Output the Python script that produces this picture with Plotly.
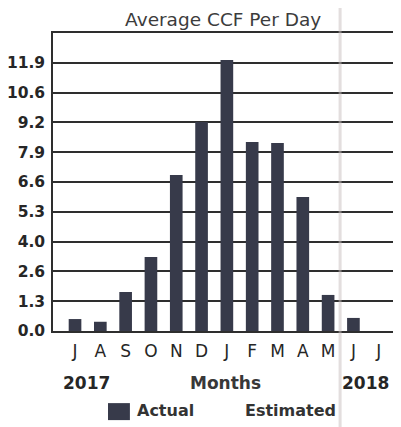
import plotly.graph_objects as go

months = ["J", "A", "S", "O", "N", "D", "J", "F", "M", "A", "M", "J", "J"]
actual = [0.53, 0.41, 1.73, 3.28, 6.92, 9.27, 12.02, 8.39, 8.34, 5.94, 1.60, 0.58, None]
estimated = [None] * 13
ytick_vals = [0, 1.322, 2.644, 3.967, 5.289, 6.611, 7.933, 9.256, 10.578, 11.9]
ytick_text = ["0.0", "1.3", "2.6", "4.0", "5.3", "6.6", "7.9", "9.2", "10.6", "11.9"]
years = ["2017", "2018"]
legend_names = ["Actual", "Estimated"]

x = list(range(len(months)))
FONT = "DejaVu Sans"
TXT = "#262626"
BAR = "#373a4a"

fig = go.Figure()
fig.add_trace(go.Bar(x=x, y=actual, name=legend_names[0], width=0.5,
                     marker=dict(color=BAR, line=dict(width=0))))
fig.add_trace(go.Bar(x=x, y=estimated, name=legend_names[1], width=0.5,
                     marker=dict(color="#ffffff", line=dict(width=0))))

# page body has an 8px default margin, so the figure is sized to fit inside it
fig.update_layout(
    width=393, height=419,
    margin=dict(l=45, r=0, t=25, b=96),
    paper_bgcolor="white", plot_bgcolor="white",
    barmode="overlay",
    title=dict(text="Average CCF Per Day", x=0.489, xref="paper", xanchor="center",
               y=0.973, yref="container", yanchor="middle", automargin=False,
               font=dict(family=FONT, size=18.5, color="#3c3c3c")),
    font=dict(family=FONT, color=TXT),
    showlegend=False,
)
fig.update_xaxes(range=[-0.87, 12.88], tickvals=x, ticktext=months,
                 tickfont=dict(family=FONT, size=17, color=TXT),
                 showgrid=False, zeroline=False, ticks="", automargin=False,
                 ticklabelstandoff=4,
                 showline=True, mirror=True, linecolor="#2e2e2e", linewidth=1.5,
                 fixedrange=True)
fig.update_yaxes(range=[0, 13.22], tickvals=ytick_vals, ticktext=ytick_text,
                 tickfont=dict(family=FONT, size=15.5, color=TXT, weight="bold"),
                 showgrid=True, gridcolor="#2e2e2e", gridwidth=1.6,
                 zeroline=False, ticks="", ticklabelstandoff=3, automargin=False,
                 showline=True, linecolor="#2e2e2e", linewidth=1.5,
                 fixedrange=True)

for txt, px in [(years[0], 0.095), ("Months", 0.497), (years[1], 0.897)]:
    fig.add_annotation(text="<b>" + txt + "</b>", x=px, xref="paper", xanchor="center",
                       y=-0.1745, yref="paper", yanchor="middle", showarrow=False,
                       font=dict(family=FONT, size=17, color=TXT if txt != "Months" else "#383838"))

# legend (drawn manually to match the swatch size)
fig.add_shape(type="rect", xref="paper", yref="paper", x0=0.158, x1=0.221, y0=-0.299, y1=-0.242,
              fillcolor=BAR, line=dict(width=0))
fig.add_annotation(text="<b>" + legend_names[0] + "</b>", x=0.236, xref="paper", xanchor="left",
                   y=-0.268, yref="paper", yanchor="middle", showarrow=False,
                   font=dict(family=FONT, size=16, color="#333333"))
fig.add_annotation(text="<b>" + legend_names[1] + "</b>", x=0.546, xref="paper", xanchor="left",
                   y=-0.268, yref="paper", yanchor="middle", showarrow=False,
                   font=dict(family=FONT, size=16, color="#333333"))

# faint vertical scan fold
fig.add_shape(type="line", xref="paper", yref="paper", x0=0.825, x1=0.825, y0=-0.33, y1=1.12,
              line=dict(color="rgba(200,190,190,0.5)", width=3), layer="above")

fig.write_html("out.html")
